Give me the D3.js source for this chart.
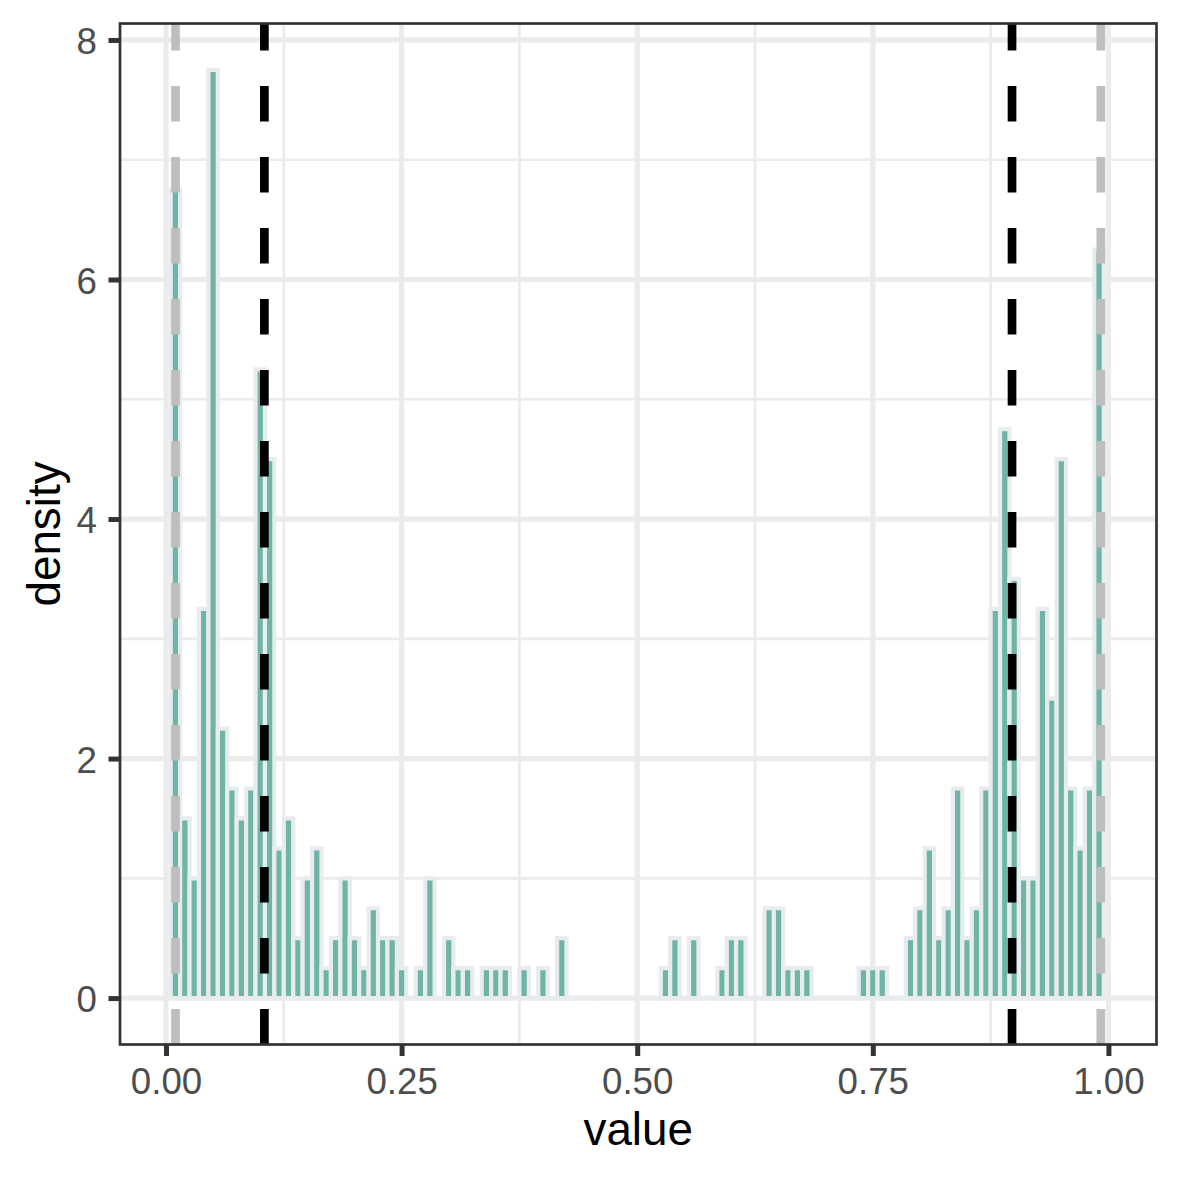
<!DOCTYPE html>
<html>
<head>
<meta charset="utf-8">
<script src="https://cdn.jsdelivr.net/npm/d3@7"></script>
<style>
  html, body { margin: 0; padding: 0; background: #ffffff; }
  svg { display: block; }
  text { font-family: "Liberation Sans", Arial, Helvetica, sans-serif; }
</style>
</head>
<body>
<svg id="chart" width="1180" height="1180"></svg>
<script>
// ---- data ----
const binWidth = 0.01;
const binCenters = d3.range(1, 100).map(k => k / 100); // 0.01 .. 0.99
const densities = [
  6.75, 1.5, 1.0, 3.25, 7.75, 2.25, 1.75, 1.5, 1.75, 5.25,   // 0.01-0.10
  4.5, 1.25, 1.5, 0.5, 1.0, 1.25, 0.25, 0.5, 1.0, 0.5,        // 0.11-0.20
  0.25, 0.75, 0.5, 0.5, 0.25, 0, 0.25, 1.0, 0, 0.5,           // 0.21-0.30
  0.25, 0.25, 0, 0.25, 0.25, 0.25, 0, 0.25, 0, 0.25,          // 0.31-0.40
  0, 0.5, 0, 0, 0, 0, 0, 0, 0, 0,                             // 0.41-0.50
  0, 0, 0.25, 0.5, 0, 0.5, 0, 0, 0.25, 0.5,                   // 0.51-0.60
  0.5, 0, 0, 0.75, 0.75, 0.25, 0.25, 0.25, 0, 0,              // 0.61-0.70
  0, 0, 0, 0.25, 0.25, 0.25, 0, 0, 0.5, 0.75,                 // 0.71-0.80
  1.25, 0.5, 0.75, 1.75, 0.5, 0.75, 1.75, 3.25, 4.75, 3.5,    // 0.81-0.90
  1.0, 1.0, 3.25, 2.5, 4.5, 1.75, 1.25, 1.75, 6.25            // 0.91-0.99
];
const innerLines = [0.1044, 0.8977];   // black dashed
const outerLines = [0.0101, 0.9919];   // grey dashed
const xMajor = [0, 0.25, 0.5, 0.75, 1.0];
const xMinor = [0.125, 0.375, 0.625, 0.875];
const xTickLabels = ["0.00", "0.25", "0.50", "0.75", "1.00"];
const yMajor = [0, 2, 4, 6, 8];
const yMinor = [1, 3, 5, 7];
const yTickLabels = ["0", "2", "4", "6", "8"];
const xTitle = "value";
const yTitle = "density";

// ---- layout ----
const panel = { left: 120, right: 1156.5, top: 23.5, bottom: 1044.5 };
const svg = d3.select("#chart");

const x = d3.scaleLinear().domain([-0.0488, 1.051]).range([panel.left, panel.right]);
const y = d3.scaleLinear().domain([-0.3875, 8.1375]).range([panel.bottom, panel.top]);

// panel background
svg.append("rect")
  .attr("x", panel.left).attr("y", panel.top)
  .attr("width", panel.right - panel.left).attr("height", panel.bottom - panel.top)
  .attr("fill", "#ffffff");

svg.append("clipPath").attr("id", "pclip").append("rect")
  .attr("x", panel.left).attr("y", panel.top)
  .attr("width", panel.right - panel.left).attr("height", panel.bottom - panel.top);

const g = svg.append("g").attr("clip-path", "url(#pclip)");

// grid
g.selectAll(".xmin").data(xMinor).enter().append("line")
  .attr("x1", d => x(d)).attr("x2", d => x(d))
  .attr("y1", panel.top).attr("y2", panel.bottom)
  .attr("stroke", "#ebebeb").attr("stroke-width", 2.7);
g.selectAll(".ymin").data(yMinor).enter().append("line")
  .attr("x1", panel.left).attr("x2", panel.right)
  .attr("y1", d => y(d)).attr("y2", d => y(d))
  .attr("stroke", "#ebebeb").attr("stroke-width", 2.7);
g.selectAll(".xmaj").data(xMajor).enter().append("line")
  .attr("x1", d => x(d)).attr("x2", d => x(d))
  .attr("y1", panel.top).attr("y2", panel.bottom)
  .attr("stroke", "#ebebeb").attr("stroke-width", 5.2);
g.selectAll(".ymaj").data(yMajor).enter().append("line")
  .attr("x1", panel.left).attr("x2", panel.right)
  .attr("y1", d => y(d)).attr("y2", d => y(d))
  .attr("stroke", "#ebebeb").attr("stroke-width", 5.2);

// bars
const bars = binCenters.map((c, i) => ({ c, v: densities[i] }));
g.selectAll(".bar").data(bars).enter().append("path")
  .attr("d", d => {
    const x0 = x(d.c - binWidth / 2), x1 = x(d.c + binWidth / 2);
    const y0 = y(0), y1 = y(d.v);
    return `M${x0},${y0}H${x1}V${y1}H${x0}Z`;
  })
  .attr("fill", "#69b3a2").attr("fill-opacity", 0.97)
  .attr("stroke", "#e9ecef").attr("stroke-width", 4.2)
  .attr("stroke-linejoin", "miter");

// dashed lines
function vlines(vals, color) {
  g.selectAll(null).data(vals).enter().append("line")
    .attr("x1", d => x(d)).attr("x2", d => x(d))
    .attr("y1", panel.bottom).attr("y2", panel.top)
    .attr("stroke", color).attr("stroke-width", 8.7)
    .attr("stroke-dasharray", "35.5,35.5");
}
vlines(outerLines, "#bebebe");
vlines(innerLines, "#000000");

// border
svg.append("rect")
  .attr("x", panel.left).attr("y", panel.top)
  .attr("width", panel.right - panel.left).attr("height", panel.bottom - panel.top)
  .attr("fill", "none").attr("stroke", "#333333").attr("stroke-width", 2.7);

// axes
const xAxis = d3.axisBottom(x).tickValues(xMajor)
  .tickFormat((d, i) => xTickLabels[i]).tickSizeInner(11.5).tickSizeOuter(0).tickPadding(12);
const xg = svg.append("g").attr("transform", `translate(0,${panel.bottom})`).call(xAxis);
xg.select(".domain").remove();
xg.selectAll(".tick line").attr("stroke", "#333333").attr("stroke-width", 5);
xg.selectAll(".tick text").attr("fill", "#4d4d4d").attr("font-size", 36.7)
  .attr("font-family", "Liberation Sans, Arial, sans-serif");

const yAxis = d3.axisLeft(y).tickValues(yMajor)
  .tickFormat((d, i) => yTickLabels[i]).tickSizeInner(11.5).tickSizeOuter(0).tickPadding(11.5);
const yg = svg.append("g").attr("transform", `translate(${panel.left},0)`).call(yAxis);
yg.select(".domain").remove();
yg.selectAll(".tick line").attr("stroke", "#333333").attr("stroke-width", 5);
yg.selectAll(".tick text").attr("fill", "#4d4d4d").attr("font-size", 36.7)
  .attr("dy", "0.37em")
  .attr("font-family", "Liberation Sans, Arial, sans-serif");

// titles
svg.append("text")
  .attr("x", (panel.left + panel.right) / 2).attr("y", 1145)
  .attr("text-anchor", "middle").attr("font-size", 45.8).attr("fill", "#000000")
  .text(xTitle);
svg.append("text")
  .attr("transform", `translate(60,${(panel.top + panel.bottom) / 2}) rotate(-90)`)
  .attr("text-anchor", "middle").attr("font-size", 45.8).attr("fill", "#000000")
  .text(yTitle);
</script>
</body>
</html>
